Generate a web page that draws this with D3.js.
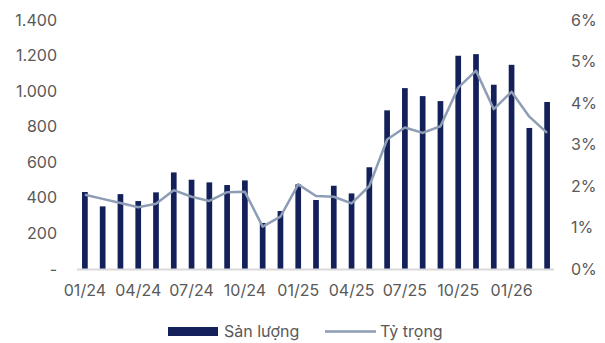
<!doctype html>
<html lang="vi">
<head>
<meta charset="utf-8">
<script src="https://d3js.org/d3.v7.min.js"></script>
<style>
  body { margin: 0; background: #fff; }
  text { font-family: Inter, "Noto Sans", sans-serif; fill: #595959; }
</style>
</head>
<body>
<div id="chart"></div>
<script>
// data
var months = ["01/24","02/24","03/24","04/24","05/24","06/24","07/24","08/24","09/24","10/24","11/24","12/24",
              "01/25","02/25","03/25","04/25","05/25","06/25","07/25","08/25","09/25","10/25","11/25","12/25",
              "01/26","02/26","03/26"];
var sanLuong = [433, 352, 421, 382, 431, 543, 502, 487, 472, 498, 259, 326,
                476, 388, 468, 425, 572, 892, 1017, 972, 944, 1199, 1208, 1036,
                1148, 793, 939];
var tyTrong = [1.79, 1.69, 1.59, 1.49, 1.57, 1.90, 1.74, 1.64, 1.85, 1.86, 1.02, 1.26,
               2.04, 1.76, 1.74, 1.58, 2.00, 3.12, 3.41, 3.28, 3.44, 4.37, 4.78, 3.85,
               4.27, 3.67, 3.28];
var leftTicks = [0, 200, 400, 600, 800, 1000, 1200, 1400];
var rightTicks = [0, 1, 2, 3, 4, 5, 6];
var xLabels = ["01/24","04/24","07/24","10/24","01/25","04/25","07/25","10/25","01/26"];

var W = 605, H = 343;
var mLeft = 76, mRight = 556, mTop = 20, mBottom = 269;
var fs = '16px';

var svg = d3.select('#chart').append('svg')
    .attr('width', W).attr('height', H);

var x = d3.scaleBand().domain(months).range([mLeft, mRight]).paddingInner(0.68).paddingOuter(0.34);
var yL = d3.scaleLinear().domain([0, 1400]).range([mBottom, mTop]);
var yR = d3.scaleLinear().domain([0, 6]).range([mBottom, mTop]);

// left axis
var fmt = function(d) { return d === 0 ? "-" : d3.format(",")(d).replace(/,/g, "."); };
var gl = svg.append('g').attr('transform', 'translate(' + (mLeft - 19) + ',0)')
    .call(d3.axisLeft(yL).tickValues(leftTicks).tickFormat(fmt).tickSize(0).tickPadding(0));
gl.select('.domain').remove();
gl.selectAll('text').style('font-size', fs);

// right axis
var gr = svg.append('g').attr('transform', 'translate(' + (mRight + 15) + ',0)')
    .call(d3.axisRight(yR).tickValues(rightTicks).tickFormat(function(d){ return d + "%"; }).tickSize(0).tickPadding(0));
gr.select('.domain').remove();
gr.selectAll('text').style('font-size', fs);

// bars
svg.append('g').selectAll('rect')
    .data(sanLuong)
    .enter().append('rect')
    .attr('x', function(d, i) { return x(months[i]); })
    .attr('y', function(d) { return yL(d); })
    .attr('width', x.bandwidth())
    .attr('height', function(d) { return mBottom - yL(d); })
    .attr('fill', '#13205a');

// baseline
svg.append('line')
    .attr('x1', mLeft + 1).attr('x2', mRight - 2)
    .attr('y1', mBottom + 0.5).attr('y2', mBottom + 0.5)
    .attr('stroke', '#d9d9d9').attr('stroke-width', 2);

// share line
var line = d3.line()
    .x(function(d, i) { return x(months[i]) + x.bandwidth() / 2; })
    .y(function(d) { return yR(d); });
svg.append('path')
    .datum(tyTrong)
    .attr('d', line)
    .attr('fill', 'none')
    .attr('stroke', '#8d9db5')
    .attr('stroke-width', 2.5)
    .attr('stroke-linejoin', 'round');

// x labels
var gx = svg.append('g').attr('transform', 'translate(0,' + mBottom + ')')
    .call(d3.axisBottom(x).tickValues(xLabels).tickSize(0).tickPadding(0));
gx.select('.domain').remove();
gx.selectAll('text').style('font-size', fs).attr('dy', null).attr('y', 27);

// legend
var lg = svg.append('g');
lg.append('rect').attr('x', 168).attr('y', 327).attr('width', 50).attr('height', 9).attr('fill', '#13205a');
lg.append('text').attr('x', 224).attr('y', 337).style('font-size', fs).text('Sản lượng');
lg.append('line').attr('x1', 325).attr('x2', 376).attr('y1', 331.5).attr('y2', 331.5)
    .attr('stroke', '#8d9db5').attr('stroke-width', 2.5);
lg.append('text').attr('x', 380).attr('y', 337).style('font-size', fs).text('Tỷ trọng');
</script>
</body>
</html>
